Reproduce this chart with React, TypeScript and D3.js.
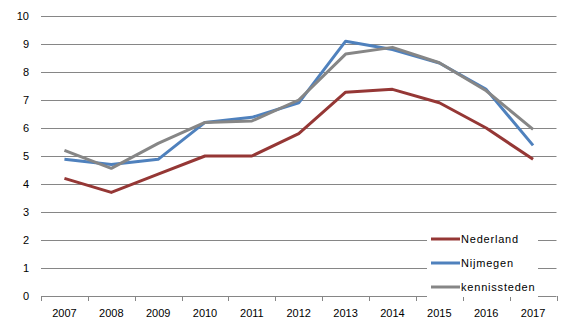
import React from "react";
import * as d3 from "d3";

const years = ["2007","2008","2009","2010","2011","2012","2013","2014","2015","2016","2017"];
const nederland = [4.2, 3.7, 4.35, 5.0, 5.0, 5.8, 7.28, 7.38, 6.9, 6.0, 4.88];
const nijmegen = [4.88, 4.7, 4.88, 6.2, 6.38, 6.9, 9.1, 8.8, 8.32, 7.38, 5.38];
const kennissteden = [5.2, 4.56, 5.45, 6.2, 6.25, 7.0, 8.64, 8.88, 8.33, 7.33, 5.95];
const yTicks = [0,1,2,3,4,5,6,7,8,9,10];

const series = [
  { name: "Nederland", values: nederland, color: "#953735" },
  { name: "Nijmegen", values: nijmegen, color: "#4F81BD" },
  { name: "kennissteden", values: kennissteden, color: "#868686" },
];

export default function App() {
  const W = 578, H = 325;
  const left = 41, right = 556.5, top = 16, bottom = 296;
  const x = d3.scaleBand<string>().domain(years).range([left, right]);
  const y = d3.scaleLinear().domain([0, 10]).range([bottom, top]);
  const line = d3.line<number>()
    .x((_, i) => (x(years[i]) as number) + x.bandwidth() / 2)
    .y((d) => y(d));
  const font = "'Liberation Sans', Arial, sans-serif";
  const legendX = 427, legendY = 226;
  const tickPositions = [...years.map((yr) => x(yr) as number), right];
  return (
    <svg width={W} height={H} style={{ position: "absolute", left: 0, top: 0, background: "#fff" }}>
      <rect x={0} y={0} width={W} height={H} fill="#fff" />
      {yTicks.map((t) => (
        <g key={t}>
          <line x1={left} x2={right} y1={Math.round(y(t)) + 0.5} y2={Math.round(y(t)) + 0.5} stroke="#868686" strokeWidth={1} />
          <text x={29} y={y(t)} dy="0.35em" textAnchor="end" fontFamily={font} fontSize={11} fill="#000">{t}</text>
        </g>
      ))}
      {tickPositions.map((p, i) => (
        <line key={i} x1={Math.round(p) + 0.5} x2={Math.round(p) + 0.5} y1={bottom} y2={bottom + 5} stroke="#868686" />
      ))}
      {years.map((yr) => (
        <text key={yr} x={(x(yr) as number) + x.bandwidth() / 2} y={317} textAnchor="middle" fontFamily={font} fontSize={11} fill="#000">{yr}</text>
      ))}
      {series.map((s) => (
        <path key={s.name} d={line(s.values) as string} fill="none" stroke={s.color} strokeWidth={3} strokeLinejoin="round" />
      ))}
      <rect x={legendX} y={legendY} width={111} height={71} fill="#fff" />
      {series.map((s, i) => (
        <g key={s.name}>
          <line x1={431} x2={460} y1={239 + i * 24} y2={239 + i * 24} stroke={s.color} strokeWidth={3} />
          <text x={461} y={239 + i * 24} dy="0.35em" fontFamily={font} fontSize={11} letterSpacing={0.8} fill="#000">{s.name}</text>
        </g>
      ))}
    </svg>
  );
}
